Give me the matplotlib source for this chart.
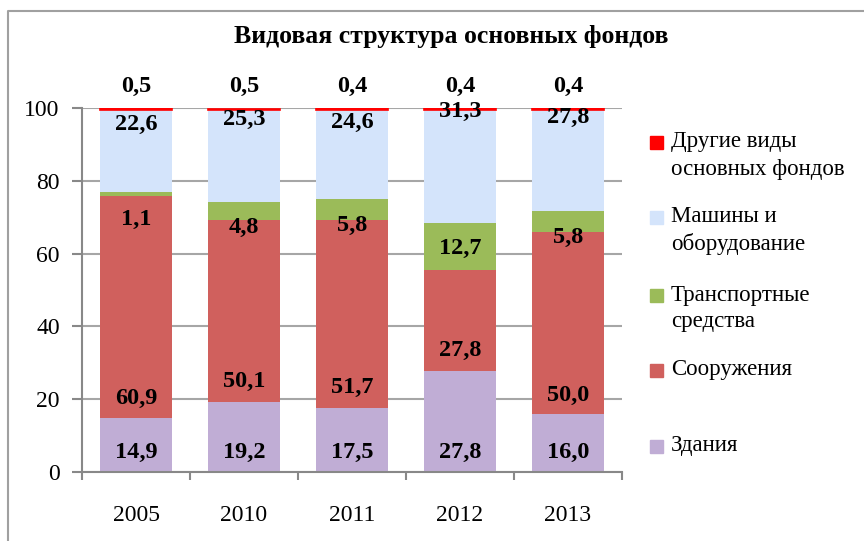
import numpy as np
import matplotlib.pyplot as plt
from matplotlib.patches import Rectangle
from matplotlib.lines import Line2D

plt.rcParams['font.family'] = ['Liberation Serif', 'DejaVu Serif']

years = ['2005', '2010', '2011', '2012', '2013']
zdaniya = [14.9, 19.2, 17.5, 27.8, 16.0]
sooruzheniya = [60.9, 50.1, 51.7, 27.8, 50.0]
transport = [1.1, 4.8, 5.8, 12.7, 5.8]
mashiny = [22.6, 25.3, 24.6, 31.3, 27.8]
drugie = [0.5, 0.5, 0.4, 0.4, 0.4]

series = [zdaniya, sooruzheniya, transport, mashiny, drugie]
names = ['Здания', 'Сооружения', 'Транспортные\nсредства',
         'Машины и\nоборудование', 'Другие виды\nосновных фондов']
colors = ['#C0ADD5', '#D0605D', '#9BBB59', '#D4E4FB', '#FF0000']

# label heights (moved by hand in the original)
label_y = [
    [5.3, 5.3, 5.3, 5.3, 5.3],
    [20.2, 24.8, 23.1, 33.5, 20.9],
    [69.3, 67.1, 67.7, 61.5, 64.4],
    [95.6, 96.8, 96.2, 99.1, 97.5],
    [106, 106, 106, 106, 106],
]

W, H = 864, 541
fig = plt.figure(figsize=(W / 100, H / 100), dpi=100)
ax = fig.add_axes([82 / W, 1 - 471.7 / H, (622 - 82) / W, (471.7 - 108.3) / H])

x = np.arange(len(years))
bottom = np.zeros(len(years))
for i, (vals, c) in enumerate(zip(series, colors)):
    lw = 1.2 if i == 4 else 0
    ax.bar(x, vals, 0.66, bottom=bottom, color=c, edgecolor=c, linewidth=lw, zorder=2)
    bottom += np.array(vals)

for vals, ys in zip(series, label_y):
    for xi, v, yy in zip(x, vals, ys):
        ax.text(xi, yy, f'{v:.1f}'.replace('.', ','), ha='center', va='center',
                fontsize=17.5, fontweight='bold', clip_on=False, zorder=3)

ax.set_xlim(-0.5, 4.5)
ax.set_ylim(0, 100)
ax.set_yticks(range(0, 101, 20))
ax.set_xticks(x)
ax.set_xticklabels(years)
ax.set_xticks(np.arange(-0.5, 5, 1), minor=True)
ax.tick_params(axis='x', which='major', length=0, pad=24, labelsize=17)
ax.tick_params(axis='x', which='minor', length=6, color='#888888', width=1.5)
ax.tick_params(axis='y', length=7, color='#888888', width=1.5, labelsize=17, pad=9)
ax.grid(axis='y', color='#A6A6A6', linewidth=1.5, zorder=0)
ax.set_axisbelow(True)
for s in ['top', 'right']:
    ax.spines[s].set_visible(False)
for s in ['left', 'bottom']:
    ax.spines[s].set_color('#888888')
    ax.spines[s].set_linewidth(1.5)
    ax.spines[s].set_zorder(2.5)

fig.text(451 / W, 1 - 36 / H, 'Видовая структура основных фондов', ha='center', va='center',
         fontsize=18.5, fontweight='bold')

# outer chart frame
fig.add_artist(Line2D([8 / W, 8 / W, 1], [0, 1 - 11 / H, 1 - 11 / H], color='#A0A0A0',
                      linewidth=1.5, transform=fig.transFigure))

# legend drawn by hand (top item = last series)
leg_y = [446, 370, 295, 217, 142]
for name, c, ly in zip(names, colors, leg_y):
    fig.add_artist(Rectangle((650 / W, 1 - (ly + 6.5) / H), 13 / W, 13 / H,
                             color=c, transform=fig.transFigure))
    for j, line in enumerate(name.split('\n')):
        fig.text(671 / W, 1 - (ly + 27 * j) / H, line, ha='left', va='center',
                 fontsize=16.5)

fig.savefig('out.png', dpi=100)
